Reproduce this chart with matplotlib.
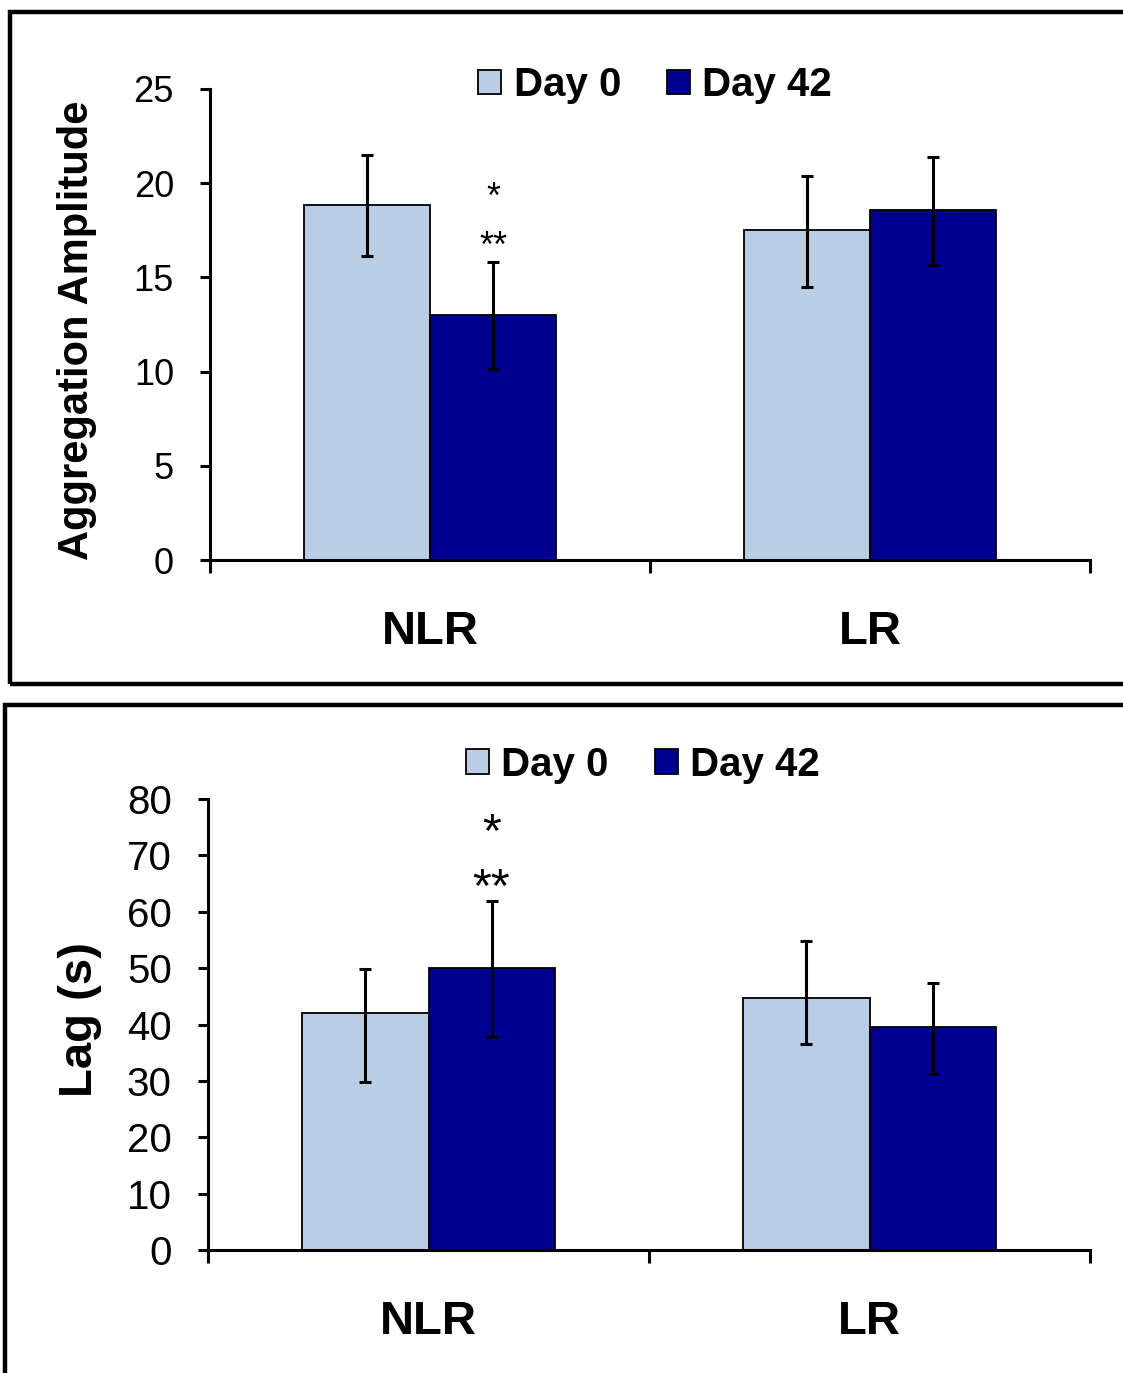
import matplotlib
matplotlib.use("Agg")
import matplotlib.pyplot as plt
import numpy as np
from matplotlib.patches import Rectangle

plt.rcParams['font.family'] = ['Liberation Sans', 'DejaVu Sans']

# data
groups = ['NLR', 'LR']
series = ['Day 0', 'Day 42']
colors = ['#B9CDE5', '#000090']

# aggregation amplitude: means, lower / upper error lengths
amp_mean = {'Day 0': [18.84, 17.52], 'Day 42': [13.02, 18.58]}
amp_lo = {'Day 0': [2.70, 3.05], 'Day 42': [2.87, 2.92]}
amp_hi = {'Day 0': [2.66, 2.86], 'Day 42': [2.80, 2.82]}

# lag (s)
lag_mean = {'Day 0': [42.1, 44.7], 'Day 42': [50.0, 39.5]}
lag_lo = {'Day 0': [12.3, 8.1], 'Day 42': [12.3, 8.2]}
lag_hi = {'Day 0': [7.7, 10.1], 'Day 42': [11.9, 7.9]}

W, H = 1123, 1373
fig = plt.figure(figsize=(W / 100, H / 100), dpi=100)


def px_axes(left, right, y0, ytop):
    return fig.add_axes([left / W, (H - y0) / H, (right - left) / W, (y0 - ytop) / H])


def draw_panel(ax, means, lo, hi, ymax, ystep, tick_fs, ylabel, ylabel_fs, ylab_xy,
               leg_xy, stars, star_fs):
    x = np.arange(len(groups))
    bw = 0.286
    for i, s in enumerate(series):
        ax.bar(x + (i - 0.5) * bw, means[s], bw, yerr=[lo[s], hi[s]], color=colors[i],
               edgecolor='black', linewidth=1.3, label=s,
               error_kw=dict(ecolor='black', elinewidth=2.2, capsize=4.5, capthick=2.2))
    ax.set_xlim(-0.5, 1.5)
    ax.set_ylim(0, ymax)
    ax.set_yticks(np.arange(0, ymax + 1, ystep))
    ax.tick_params(axis='y', direction='out', length=7, width=2.2, labelsize=tick_fs, pad=19)
    ax.set_xticks([-0.5, 0.5, 1.5])
    ax.set_xticklabels(['', '', ''])
    ax.tick_params(axis='x', which='major', direction='out', length=9, width=2.2)
    ax.set_xticks(x, minor=True)
    ax.set_xticklabels(groups, minor=True, fontsize=34, fontweight='bold')
    ax.tick_params(axis='x', which='minor', length=0, pad=36)
    for sp in ['top', 'right']:
        ax.spines[sp].set_visible(False)
    for sp in ['left', 'bottom']:
        ax.spines[sp].set_linewidth(2.2)
    ax.set_ylabel(ylabel, fontsize=ylabel_fs, fontweight='bold')
    ax.yaxis.set_label_coords(*ylab_xy)
    ax.legend(loc='center', bbox_to_anchor=leg_xy, ncol=2, frameon=False,
              prop=dict(size=29, weight='bold'), handlelength=0.575, handleheight=0.575,
              handletextpad=0.3, columnspacing=1.15, borderaxespad=0)
    for txt, yv in stars:
        ax.text(x[0] + 0.5 * bw, yv, txt, ha='center', va='center', fontsize=star_fs)


ax1 = px_axes(210, 1090, 560, 89)
draw_panel(ax1, amp_mean, amp_lo, amp_hi, 25, 5, 26, 'Aggregation Amplitude', 30,
           (-0.128, 0.488), (0.506, 1.008), [('*', 19.2), ('**', 16.6)], 26)

ax2 = px_axes(208, 1090, 1250, 799)
draw_panel(ax2, lag_mean, lag_lo, lag_hi, 80, 10, 29, 'Lag (s)', 34,
           (-0.120, 0.512), (0.493, 1.075), [('*', 73.9), ('**', 64.2)], 35)

# panel frames
fig.add_artist(Rectangle((10 / W, (H - 684) / H), 1.2, 672 / H, transform=fig.transFigure,
                         fill=False, edgecolor='black', linewidth=3.2))
fig.add_artist(Rectangle((5 / W, -0.1), 1.2, (H - 705) / H + 0.1, transform=fig.transFigure,
                         fill=False, edgecolor='black', linewidth=3.2))

fig.savefig('out.png', dpi=100)
